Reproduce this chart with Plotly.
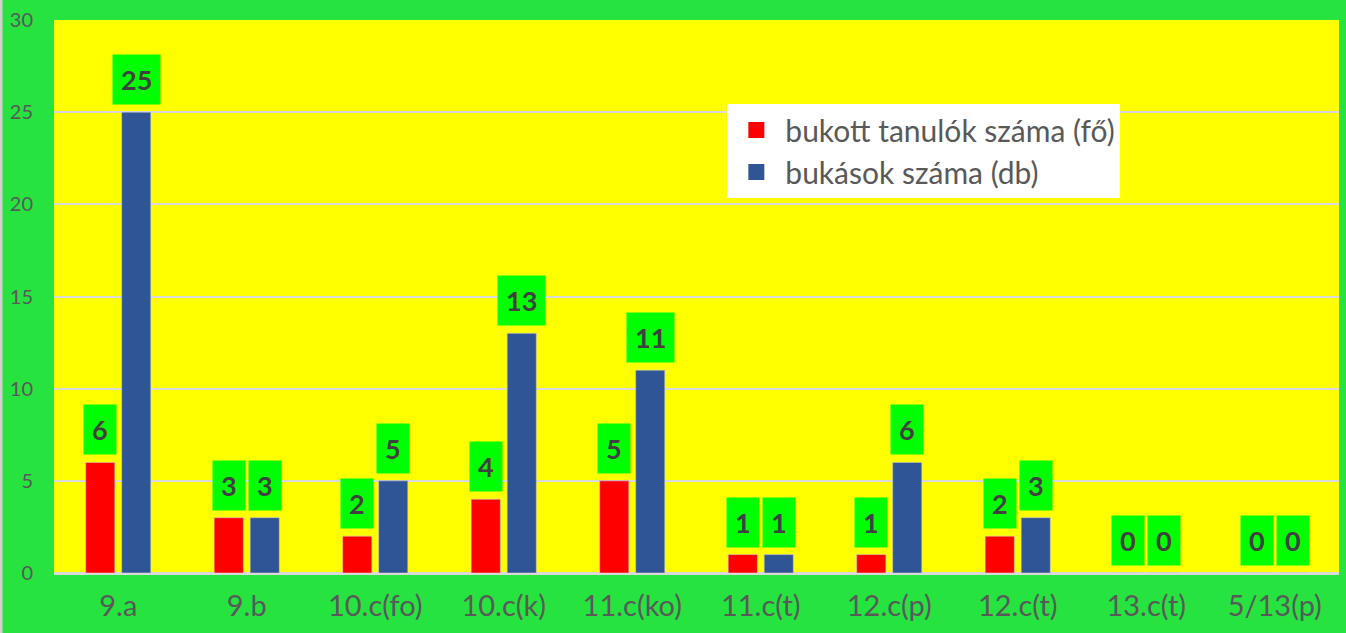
import plotly.graph_objects as go

categories = ["9.a", "9.b", "10.c(fo)", "10.c(k)", "11.c(ko)", "11.c(t)", "12.c(p)", "12.c(t)", "13.c(t)", "5/13(p)"]
bukott_tanulok = [6, 3, 2, 4, 5, 1, 1, 2, 0, 0]
bukasok = [25, 3, 5, 13, 11, 1, 6, 3, 0, 0]
series_names = ["bukott tanulók száma (fő)", "bukások száma (db)"]
series_colors = ["#ff0000", "#2f5597"]
y_ticks = [0, 5, 10, 15, 20, 25, 30]

FONT = "Lato, Open Sans, sans-serif"

fig = go.Figure()
for name, vals, col in zip(series_names, [bukott_tanulok, bukasok], series_colors):
    fig.add_trace(go.Bar(
        x=categories, y=vals, name=name, showlegend=False,
        marker=dict(color=col, line=dict(color="#c9c9c9", width=0.6)),
    ))
# legend entries with larger square keys
for name, col in zip(series_names, series_colors):
    fig.add_trace(go.Scatter(
        x=[None], y=[None], mode="markers", name=name,
        marker=dict(symbol="square", size=18, color=col),
    ))

# data labels in green boxes
for vals, shift in zip([bukott_tanulok, bukasok], [-18, 18]):
    for c, v in zip(categories, vals):
        fig.add_annotation(
            x=c, y=v, text=f"<b>{v}</b>", showarrow=False,
            xshift=shift, yshift=7, yanchor="bottom", xanchor="center",
            bgcolor="#00ff00", borderpad=8,
            font=dict(family=FONT, size=27, color="#404040"),
        )

# thin light frame on the left edge of the chart
fig.add_shape(type="line", xref="paper", yref="paper",
              x0=-53/1285, x1=-53/1285, y0=-60/553, y1=1 + 20/553,
              line=dict(color="#d0d0d0", width=3))

fig.update_layout(
    width=1346, height=633,
    paper_bgcolor="#26e33f", plot_bgcolor="#ffff00",
    margin=dict(l=54, r=7, t=20, b=60),
    barmode="group", bargap=0.44, bargroupgap=0.19,
    showlegend=True,
    legend=dict(
        x=0.524, y=0.848, xanchor="left", yanchor="top",
        bgcolor="#ffffff", font=dict(family=FONT, size=30, color="#595959"),
        itemsizing="trace", itemwidth=48,
    ),
    xaxis=dict(
        tickfont=dict(family=FONT, size=29, color="#595959"),
        showgrid=False, showline=True, linecolor="#d9d9d9", linewidth=1.5,
        ticklabelstandoff=6, automargin=False,
    ),
    yaxis=dict(
        range=[0, 30], tickvals=y_ticks,
        tickfont=dict(family=FONT, size=20, color="#595959"),
        gridcolor="#d9d9d9", gridwidth=1.5, zeroline=True, zerolinecolor="#d9d9d9",
        ticklabelstandoff=20, automargin=False,
    ),
)

fig.write_html("out.html", config={"displayModeBar": False},
               post_script="document.body.style.margin='0';")
